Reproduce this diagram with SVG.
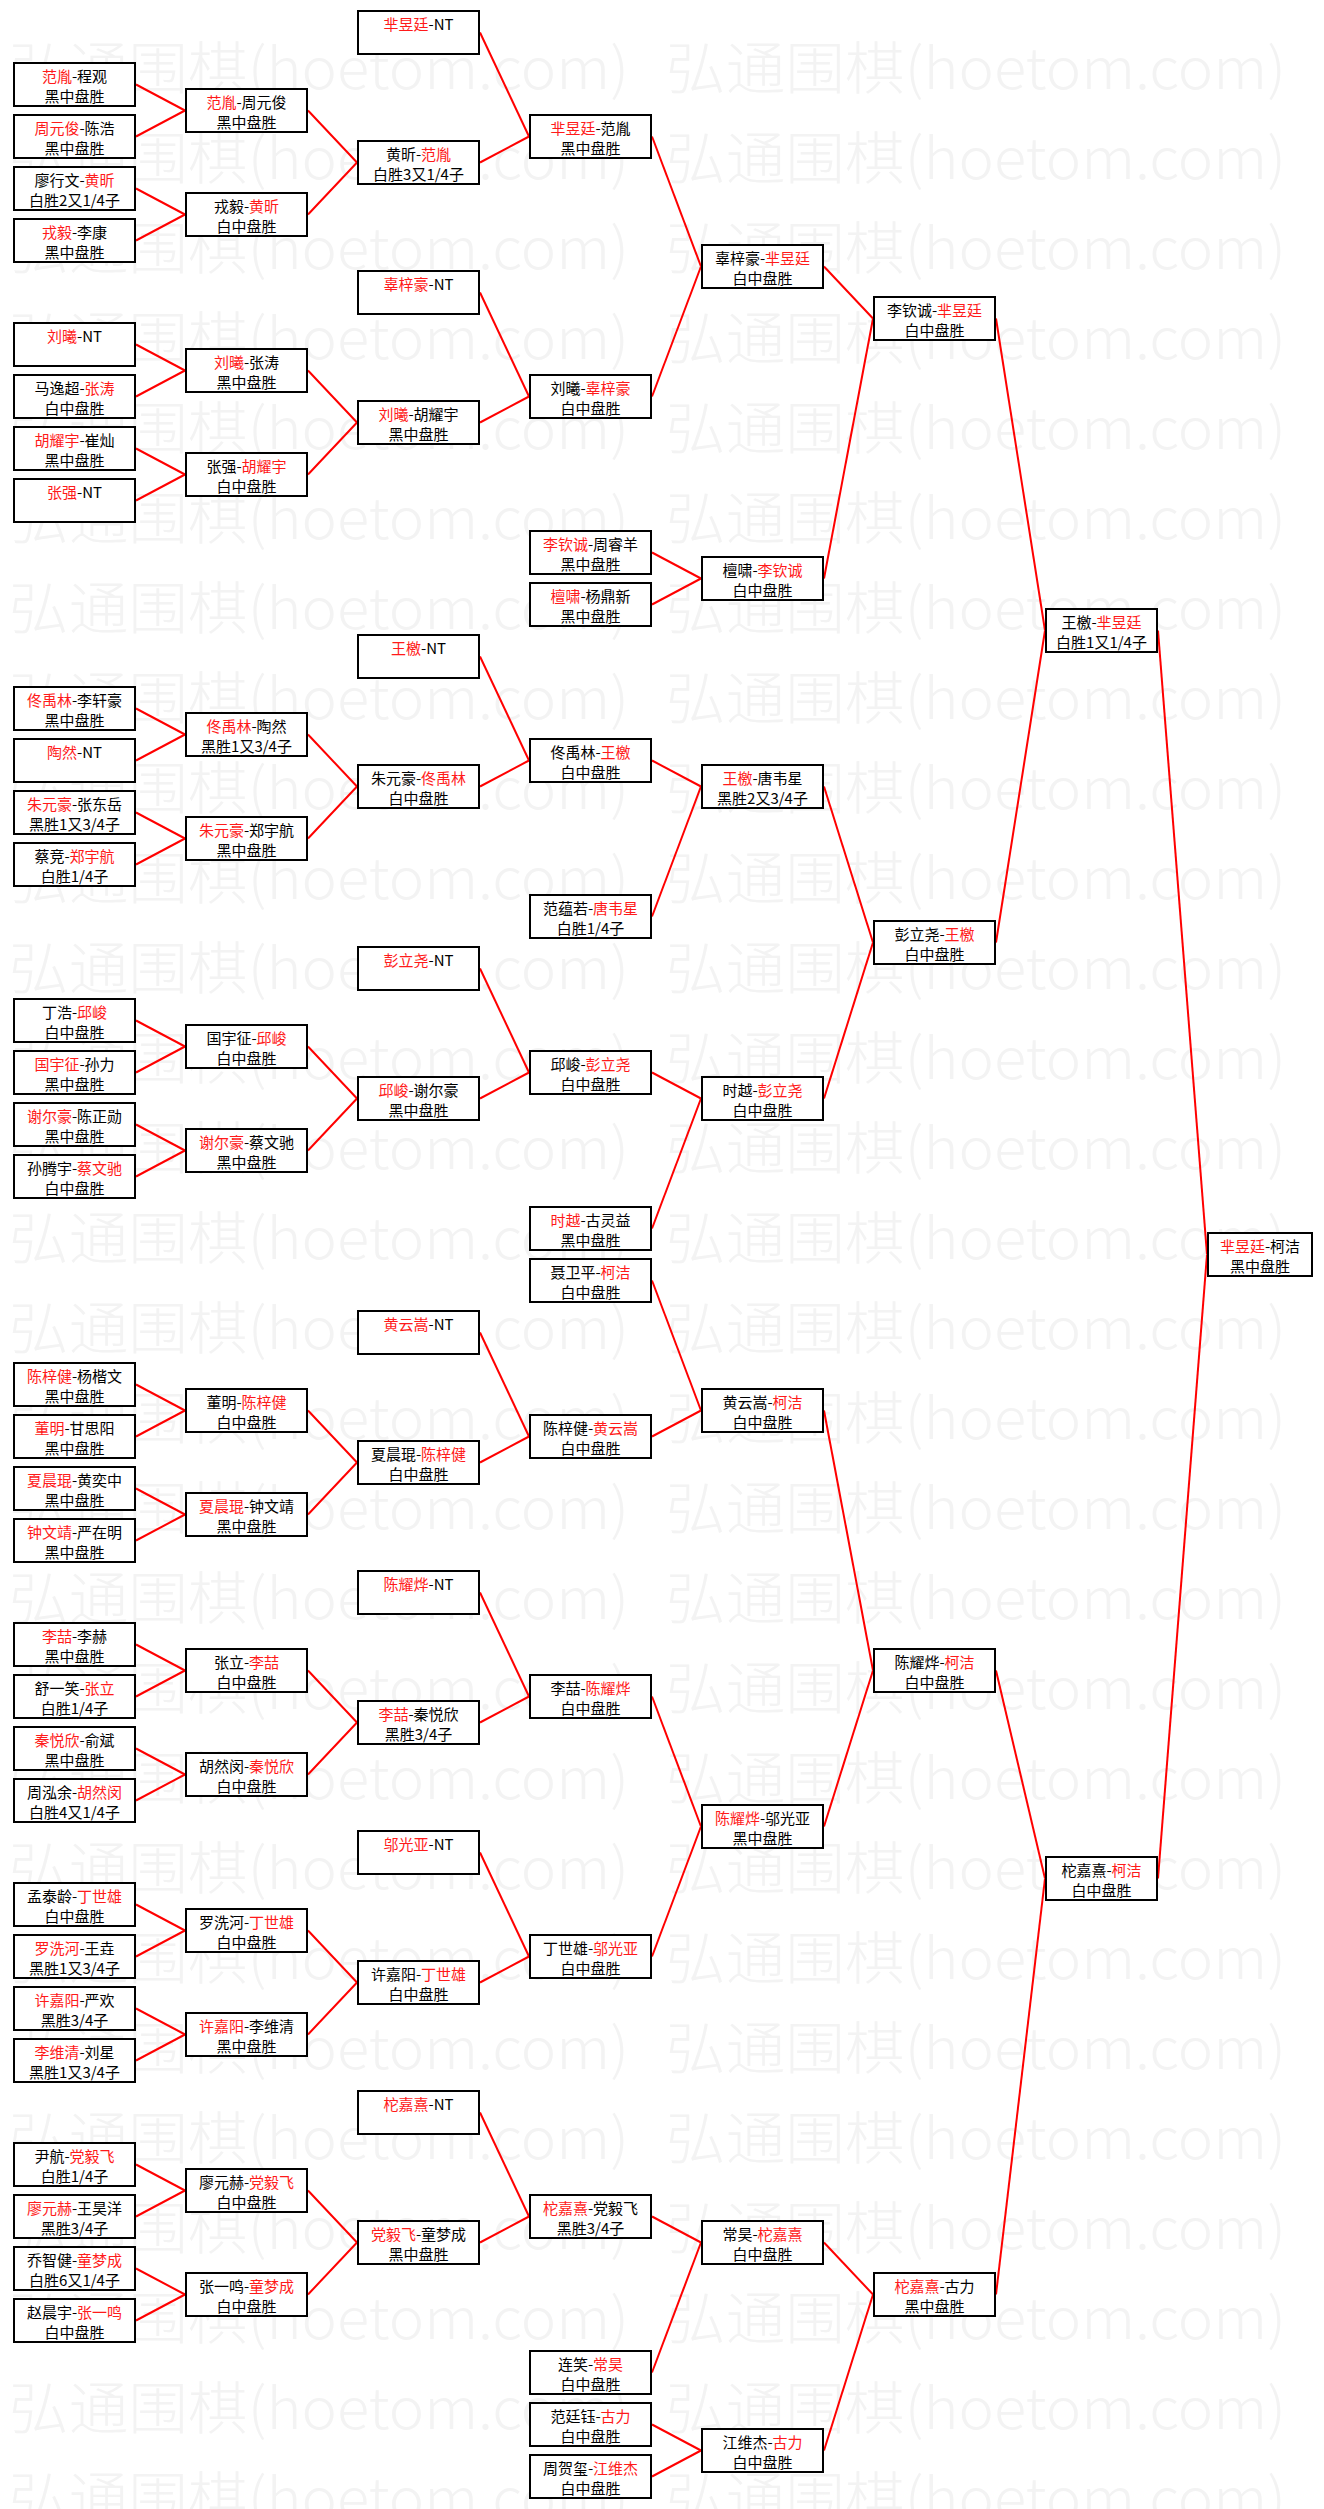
<svg xmlns="http://www.w3.org/2000/svg" width="1324" height="2509" viewBox="0 0 1324 2509">
<style>
.b{fill:#fff;stroke:#000;stroke-width:2}
.t{font-family:"Noto Sans CJK SC","Noto Sans",sans-serif;font-size:15px;text-anchor:middle;fill:#000}
.r{fill:#ff1a1a}
.c line{stroke:#ff0000;stroke-width:2;fill:none}
.wm{font-family:"Noto Sans CJK SC",sans-serif;font-size:57px;font-weight:300;fill:#f3f3f3}
</style>
<defs>
<pattern id="wmp" patternUnits="userSpaceOnUse" x="0" y="23" width="1324" height="90">
<text class="wm" x="9" y="66" textLength="620" lengthAdjust="spacingAndGlyphs">弘通围棋(hoetom.com)</text>
<text class="wm" x="666" y="66" textLength="620" lengthAdjust="spacingAndGlyphs">弘通围棋(hoetom.com)</text>
</pattern>
</defs>
<rect x="0" y="0" width="1324" height="2509" fill="#fff"/>
<rect id="watermark" x="0" y="23" width="1324" height="2486" fill="url(#wmp)"/>
<g id="connectors" class="c">
<line x1="136" y1="84.5" x2="185" y2="110.5"/><line x1="136" y1="136.5" x2="185" y2="110.5"/>
<line x1="136" y1="188.5" x2="185" y2="214.5"/><line x1="136" y1="240.5" x2="185" y2="214.5"/>
<line x1="136" y1="344.5" x2="185" y2="370.5"/><line x1="136" y1="396.5" x2="185" y2="370.5"/>
<line x1="136" y1="448.5" x2="185" y2="474.5"/><line x1="136" y1="500.5" x2="185" y2="474.5"/>
<line x1="136" y1="708.5" x2="185" y2="734.5"/><line x1="136" y1="760.5" x2="185" y2="734.5"/>
<line x1="136" y1="812.5" x2="185" y2="838.5"/><line x1="136" y1="864.5" x2="185" y2="838.5"/>
<line x1="136" y1="1020.5" x2="185" y2="1046.5"/><line x1="136" y1="1072.5" x2="185" y2="1046.5"/>
<line x1="136" y1="1124.5" x2="185" y2="1150.5"/><line x1="136" y1="1176.5" x2="185" y2="1150.5"/>
<line x1="136" y1="1384.5" x2="185" y2="1410.5"/><line x1="136" y1="1436.5" x2="185" y2="1410.5"/>
<line x1="136" y1="1488.5" x2="185" y2="1514.5"/><line x1="136" y1="1540.5" x2="185" y2="1514.5"/>
<line x1="136" y1="1644.5" x2="185" y2="1670.5"/><line x1="136" y1="1696.5" x2="185" y2="1670.5"/>
<line x1="136" y1="1748.5" x2="185" y2="1774.5"/><line x1="136" y1="1800.5" x2="185" y2="1774.5"/>
<line x1="136" y1="1904.5" x2="185" y2="1930.5"/><line x1="136" y1="1956.5" x2="185" y2="1930.5"/>
<line x1="136" y1="2008.5" x2="185" y2="2034.5"/><line x1="136" y1="2060.5" x2="185" y2="2034.5"/>
<line x1="136" y1="2164.5" x2="185" y2="2190.5"/><line x1="136" y1="2216.5" x2="185" y2="2190.5"/>
<line x1="136" y1="2268.5" x2="185" y2="2294.5"/><line x1="136" y1="2320.5" x2="185" y2="2294.5"/>
<line x1="308" y1="110.5" x2="357" y2="162.5"/><line x1="308" y1="214.5" x2="357" y2="162.5"/>
<line x1="308" y1="370.5" x2="357" y2="422.5"/><line x1="308" y1="474.5" x2="357" y2="422.5"/>
<line x1="308" y1="734.5" x2="357" y2="786.5"/><line x1="308" y1="838.5" x2="357" y2="786.5"/>
<line x1="308" y1="1046.5" x2="357" y2="1098.5"/><line x1="308" y1="1150.5" x2="357" y2="1098.5"/>
<line x1="308" y1="1410.5" x2="357" y2="1462.5"/><line x1="308" y1="1514.5" x2="357" y2="1462.5"/>
<line x1="308" y1="1670.5" x2="357" y2="1722.5"/><line x1="308" y1="1774.5" x2="357" y2="1722.5"/>
<line x1="308" y1="1930.5" x2="357" y2="1982.5"/><line x1="308" y1="2034.5" x2="357" y2="1982.5"/>
<line x1="308" y1="2190.5" x2="357" y2="2242.5"/><line x1="308" y1="2294.5" x2="357" y2="2242.5"/>
<line x1="480" y1="32.5" x2="529" y2="136.5"/><line x1="480" y1="162.5" x2="529" y2="136.5"/>
<line x1="480" y1="292.5" x2="529" y2="396.5"/><line x1="480" y1="422.5" x2="529" y2="396.5"/>
<line x1="480" y1="656.5" x2="529" y2="760.5"/><line x1="480" y1="786.5" x2="529" y2="760.5"/>
<line x1="480" y1="968.5" x2="529" y2="1072.5"/><line x1="480" y1="1098.5" x2="529" y2="1072.5"/>
<line x1="480" y1="1332.5" x2="529" y2="1436.5"/><line x1="480" y1="1462.5" x2="529" y2="1436.5"/>
<line x1="480" y1="1592.5" x2="529" y2="1696.5"/><line x1="480" y1="1722.5" x2="529" y2="1696.5"/>
<line x1="480" y1="1852.5" x2="529" y2="1956.5"/><line x1="480" y1="1982.5" x2="529" y2="1956.5"/>
<line x1="480" y1="2112.5" x2="529" y2="2216.5"/><line x1="480" y1="2242.5" x2="529" y2="2216.5"/>
<line x1="652" y1="136.5" x2="701" y2="266.5"/><line x1="652" y1="396.5" x2="701" y2="266.5"/>
<line x1="652" y1="552.5" x2="701" y2="578.5"/><line x1="652" y1="604.5" x2="701" y2="578.5"/>
<line x1="652" y1="760.5" x2="701" y2="786.5"/><line x1="652" y1="916.5" x2="701" y2="786.5"/>
<line x1="652" y1="1072.5" x2="701" y2="1098.5"/><line x1="652" y1="1228.5" x2="701" y2="1098.5"/>
<line x1="652" y1="1280.5" x2="701" y2="1410.5"/><line x1="652" y1="1436.5" x2="701" y2="1410.5"/>
<line x1="652" y1="1696.5" x2="701" y2="1826.5"/><line x1="652" y1="1956.5" x2="701" y2="1826.5"/>
<line x1="652" y1="2216.5" x2="701" y2="2242.5"/><line x1="652" y1="2372.5" x2="701" y2="2242.5"/>
<line x1="652" y1="2424.5" x2="701" y2="2450.5"/><line x1="652" y1="2476.5" x2="701" y2="2450.5"/>
<line x1="824" y1="266.5" x2="873" y2="318.5"/><line x1="824" y1="578.5" x2="873" y2="318.5"/>
<line x1="824" y1="786.5" x2="873" y2="942.5"/><line x1="824" y1="1098.5" x2="873" y2="942.5"/>
<line x1="824" y1="1410.5" x2="873" y2="1670.5"/><line x1="824" y1="1826.5" x2="873" y2="1670.5"/>
<line x1="824" y1="2242.5" x2="873" y2="2294.5"/><line x1="824" y1="2450.5" x2="873" y2="2294.5"/>
<line x1="996" y1="318.5" x2="1045" y2="630.5"/><line x1="996" y1="942.5" x2="1045" y2="630.5"/>
<line x1="996" y1="1670.5" x2="1045" y2="1878.5"/><line x1="996" y1="2294.5" x2="1045" y2="1878.5"/>
<line x1="1158" y1="630.5" x2="1207" y2="1254.5"/><line x1="1158" y1="1878.5" x2="1207" y2="1254.5"/>
</g>
<g id="nodes">
<!-- column 1 -->
<g id="r1-02" transform="translate(13,62)"><rect class="b" x="1" y="1" width="121" height="43"/><text class="t" x="61.5" y="20"><tspan class="r">范胤</tspan>-程观</text><text class="t" x="61.5" y="39.5">黑中盘胜</text></g>
<g id="r1-04" transform="translate(13,114)"><rect class="b" x="1" y="1" width="121" height="43"/><text class="t" x="61.5" y="20"><tspan class="r">周元俊</tspan>-陈浩</text><text class="t" x="61.5" y="39.5">黑中盘胜</text></g>
<g id="r1-06" transform="translate(13,166)"><rect class="b" x="1" y="1" width="121" height="43"/><text class="t" x="61.5" y="20">廖行文-<tspan class="r">黄昕</tspan></text><text class="t" x="61.5" y="39.5">白胜2又1/4子</text></g>
<g id="r1-08" transform="translate(13,218)"><rect class="b" x="1" y="1" width="121" height="43"/><text class="t" x="61.5" y="20"><tspan class="r">戎毅</tspan>-李康</text><text class="t" x="61.5" y="39.5">黑中盘胜</text></g>
<g id="r1-12" transform="translate(13,322)"><rect class="b" x="1" y="1" width="121" height="43"/><text class="t" x="61.5" y="20"><tspan class="r">刘曦</tspan>-NT</text></g>
<g id="r1-14" transform="translate(13,374)"><rect class="b" x="1" y="1" width="121" height="43"/><text class="t" x="61.5" y="20">马逸超-<tspan class="r">张涛</tspan></text><text class="t" x="61.5" y="39.5">白中盘胜</text></g>
<g id="r1-16" transform="translate(13,426)"><rect class="b" x="1" y="1" width="121" height="43"/><text class="t" x="61.5" y="20"><tspan class="r">胡耀宇</tspan>-崔灿</text><text class="t" x="61.5" y="39.5">黑中盘胜</text></g>
<g id="r1-18" transform="translate(13,478)"><rect class="b" x="1" y="1" width="121" height="43"/><text class="t" x="61.5" y="20"><tspan class="r">张强</tspan>-NT</text></g>
<g id="r1-26" transform="translate(13,686)"><rect class="b" x="1" y="1" width="121" height="43"/><text class="t" x="61.5" y="20"><tspan class="r">佟禹林</tspan>-李轩豪</text><text class="t" x="61.5" y="39.5">黑中盘胜</text></g>
<g id="r1-28" transform="translate(13,738)"><rect class="b" x="1" y="1" width="121" height="43"/><text class="t" x="61.5" y="20"><tspan class="r">陶然</tspan>-NT</text></g>
<g id="r1-30" transform="translate(13,790)"><rect class="b" x="1" y="1" width="121" height="43"/><text class="t" x="61.5" y="20"><tspan class="r">朱元豪</tspan>-张东岳</text><text class="t" x="61.5" y="39.5">黑胜1又3/4子</text></g>
<g id="r1-32" transform="translate(13,842)"><rect class="b" x="1" y="1" width="121" height="43"/><text class="t" x="61.5" y="20">蔡竞-<tspan class="r">郑宇航</tspan></text><text class="t" x="61.5" y="39.5">白胜1/4子</text></g>
<g id="r1-38" transform="translate(13,998)"><rect class="b" x="1" y="1" width="121" height="43"/><text class="t" x="61.5" y="20">丁浩-<tspan class="r">邱峻</tspan></text><text class="t" x="61.5" y="39.5">白中盘胜</text></g>
<g id="r1-40" transform="translate(13,1050)"><rect class="b" x="1" y="1" width="121" height="43"/><text class="t" x="61.5" y="20"><tspan class="r">国宇征</tspan>-孙力</text><text class="t" x="61.5" y="39.5">黑中盘胜</text></g>
<g id="r1-42" transform="translate(13,1102)"><rect class="b" x="1" y="1" width="121" height="43"/><text class="t" x="61.5" y="20"><tspan class="r">谢尔豪</tspan>-陈正勋</text><text class="t" x="61.5" y="39.5">黑中盘胜</text></g>
<g id="r1-44" transform="translate(13,1154)"><rect class="b" x="1" y="1" width="121" height="43"/><text class="t" x="61.5" y="20">孙腾宇-<tspan class="r">蔡文驰</tspan></text><text class="t" x="61.5" y="39.5">白中盘胜</text></g>
<g id="r1-52" transform="translate(13,1362)"><rect class="b" x="1" y="1" width="121" height="43"/><text class="t" x="61.5" y="20"><tspan class="r">陈梓健</tspan>-杨楷文</text><text class="t" x="61.5" y="39.5">黑中盘胜</text></g>
<g id="r1-54" transform="translate(13,1414)"><rect class="b" x="1" y="1" width="121" height="43"/><text class="t" x="61.5" y="20"><tspan class="r">董明</tspan>-甘思阳</text><text class="t" x="61.5" y="39.5">黑中盘胜</text></g>
<g id="r1-56" transform="translate(13,1466)"><rect class="b" x="1" y="1" width="121" height="43"/><text class="t" x="61.5" y="20"><tspan class="r">夏晨琨</tspan>-黄奕中</text><text class="t" x="61.5" y="39.5">黑中盘胜</text></g>
<g id="r1-58" transform="translate(13,1518)"><rect class="b" x="1" y="1" width="121" height="43"/><text class="t" x="61.5" y="20"><tspan class="r">钟文靖</tspan>-严在明</text><text class="t" x="61.5" y="39.5">黑中盘胜</text></g>
<g id="r1-62" transform="translate(13,1622)"><rect class="b" x="1" y="1" width="121" height="43"/><text class="t" x="61.5" y="20"><tspan class="r">李喆</tspan>-李赫</text><text class="t" x="61.5" y="39.5">黑中盘胜</text></g>
<g id="r1-64" transform="translate(13,1674)"><rect class="b" x="1" y="1" width="121" height="43"/><text class="t" x="61.5" y="20">舒一笑-<tspan class="r">张立</tspan></text><text class="t" x="61.5" y="39.5">白胜1/4子</text></g>
<g id="r1-66" transform="translate(13,1726)"><rect class="b" x="1" y="1" width="121" height="43"/><text class="t" x="61.5" y="20"><tspan class="r">秦悦欣</tspan>-俞斌</text><text class="t" x="61.5" y="39.5">黑中盘胜</text></g>
<g id="r1-68" transform="translate(13,1778)"><rect class="b" x="1" y="1" width="121" height="43"/><text class="t" x="61.5" y="20">周泓余-<tspan class="r">胡然闵</tspan></text><text class="t" x="61.5" y="39.5">白胜4又1/4子</text></g>
<g id="r1-72" transform="translate(13,1882)"><rect class="b" x="1" y="1" width="121" height="43"/><text class="t" x="61.5" y="20">孟泰龄-<tspan class="r">丁世雄</tspan></text><text class="t" x="61.5" y="39.5">白中盘胜</text></g>
<g id="r1-74" transform="translate(13,1934)"><rect class="b" x="1" y="1" width="121" height="43"/><text class="t" x="61.5" y="20"><tspan class="r">罗洗河</tspan>-王垚</text><text class="t" x="61.5" y="39.5">黑胜1又3/4子</text></g>
<g id="r1-76" transform="translate(13,1986)"><rect class="b" x="1" y="1" width="121" height="43"/><text class="t" x="61.5" y="20"><tspan class="r">许嘉阳</tspan>-严欢</text><text class="t" x="61.5" y="39.5">黑胜3/4子</text></g>
<g id="r1-78" transform="translate(13,2038)"><rect class="b" x="1" y="1" width="121" height="43"/><text class="t" x="61.5" y="20"><tspan class="r">李维清</tspan>-刘星</text><text class="t" x="61.5" y="39.5">黑胜1又3/4子</text></g>
<g id="r1-82" transform="translate(13,2142)"><rect class="b" x="1" y="1" width="121" height="43"/><text class="t" x="61.5" y="20">尹航-<tspan class="r">党毅飞</tspan></text><text class="t" x="61.5" y="39.5">白胜1/4子</text></g>
<g id="r1-84" transform="translate(13,2194)"><rect class="b" x="1" y="1" width="121" height="43"/><text class="t" x="61.5" y="20"><tspan class="r">廖元赫</tspan>-王昊洋</text><text class="t" x="61.5" y="39.5">黑胜3/4子</text></g>
<g id="r1-86" transform="translate(13,2246)"><rect class="b" x="1" y="1" width="121" height="43"/><text class="t" x="61.5" y="20">乔智健-<tspan class="r">童梦成</tspan></text><text class="t" x="61.5" y="39.5">白胜6又1/4子</text></g>
<g id="r1-88" transform="translate(13,2298)"><rect class="b" x="1" y="1" width="121" height="43"/><text class="t" x="61.5" y="20">赵晨宇-<tspan class="r">张一鸣</tspan></text><text class="t" x="61.5" y="39.5">白中盘胜</text></g>
<!-- column 2 -->
<g id="r2-03" transform="translate(185,88)"><rect class="b" x="1" y="1" width="121" height="43"/><text class="t" x="61.5" y="20"><tspan class="r">范胤</tspan>-周元俊</text><text class="t" x="61.5" y="39.5">黑中盘胜</text></g>
<g id="r2-07" transform="translate(185,192)"><rect class="b" x="1" y="1" width="121" height="43"/><text class="t" x="61.5" y="20">戎毅-<tspan class="r">黄昕</tspan></text><text class="t" x="61.5" y="39.5">白中盘胜</text></g>
<g id="r2-13" transform="translate(185,348)"><rect class="b" x="1" y="1" width="121" height="43"/><text class="t" x="61.5" y="20"><tspan class="r">刘曦</tspan>-张涛</text><text class="t" x="61.5" y="39.5">黑中盘胜</text></g>
<g id="r2-17" transform="translate(185,452)"><rect class="b" x="1" y="1" width="121" height="43"/><text class="t" x="61.5" y="20">张强-<tspan class="r">胡耀宇</tspan></text><text class="t" x="61.5" y="39.5">白中盘胜</text></g>
<g id="r2-27" transform="translate(185,712)"><rect class="b" x="1" y="1" width="121" height="43"/><text class="t" x="61.5" y="20"><tspan class="r">佟禹林</tspan>-陶然</text><text class="t" x="61.5" y="39.5">黑胜1又3/4子</text></g>
<g id="r2-31" transform="translate(185,816)"><rect class="b" x="1" y="1" width="121" height="43"/><text class="t" x="61.5" y="20"><tspan class="r">朱元豪</tspan>-郑宇航</text><text class="t" x="61.5" y="39.5">黑中盘胜</text></g>
<g id="r2-39" transform="translate(185,1024)"><rect class="b" x="1" y="1" width="121" height="43"/><text class="t" x="61.5" y="20">国宇征-<tspan class="r">邱峻</tspan></text><text class="t" x="61.5" y="39.5">白中盘胜</text></g>
<g id="r2-43" transform="translate(185,1128)"><rect class="b" x="1" y="1" width="121" height="43"/><text class="t" x="61.5" y="20"><tspan class="r">谢尔豪</tspan>-蔡文驰</text><text class="t" x="61.5" y="39.5">黑中盘胜</text></g>
<g id="r2-53" transform="translate(185,1388)"><rect class="b" x="1" y="1" width="121" height="43"/><text class="t" x="61.5" y="20">董明-<tspan class="r">陈梓健</tspan></text><text class="t" x="61.5" y="39.5">白中盘胜</text></g>
<g id="r2-57" transform="translate(185,1492)"><rect class="b" x="1" y="1" width="121" height="43"/><text class="t" x="61.5" y="20"><tspan class="r">夏晨琨</tspan>-钟文靖</text><text class="t" x="61.5" y="39.5">黑中盘胜</text></g>
<g id="r2-63" transform="translate(185,1648)"><rect class="b" x="1" y="1" width="121" height="43"/><text class="t" x="61.5" y="20">张立-<tspan class="r">李喆</tspan></text><text class="t" x="61.5" y="39.5">白中盘胜</text></g>
<g id="r2-67" transform="translate(185,1752)"><rect class="b" x="1" y="1" width="121" height="43"/><text class="t" x="61.5" y="20">胡然闵-<tspan class="r">秦悦欣</tspan></text><text class="t" x="61.5" y="39.5">白中盘胜</text></g>
<g id="r2-73" transform="translate(185,1908)"><rect class="b" x="1" y="1" width="121" height="43"/><text class="t" x="61.5" y="20">罗洗河-<tspan class="r">丁世雄</tspan></text><text class="t" x="61.5" y="39.5">白中盘胜</text></g>
<g id="r2-77" transform="translate(185,2012)"><rect class="b" x="1" y="1" width="121" height="43"/><text class="t" x="61.5" y="20"><tspan class="r">许嘉阳</tspan>-李维清</text><text class="t" x="61.5" y="39.5">黑中盘胜</text></g>
<g id="r2-83" transform="translate(185,2168)"><rect class="b" x="1" y="1" width="121" height="43"/><text class="t" x="61.5" y="20">廖元赫-<tspan class="r">党毅飞</tspan></text><text class="t" x="61.5" y="39.5">白中盘胜</text></g>
<g id="r2-87" transform="translate(185,2272)"><rect class="b" x="1" y="1" width="121" height="43"/><text class="t" x="61.5" y="20">张一鸣-<tspan class="r">童梦成</tspan></text><text class="t" x="61.5" y="39.5">白中盘胜</text></g>
<!-- column 3 -->
<g id="r3-00" transform="translate(357,10)"><rect class="b" x="1" y="1" width="121" height="43"/><text class="t" x="61.5" y="20"><tspan class="r">芈昱廷</tspan>-NT</text></g>
<g id="r3-05" transform="translate(357,140)"><rect class="b" x="1" y="1" width="121" height="43"/><text class="t" x="61.5" y="20">黄昕-<tspan class="r">范胤</tspan></text><text class="t" x="61.5" y="39.5">白胜3又1/4子</text></g>
<g id="r3-10" transform="translate(357,270)"><rect class="b" x="1" y="1" width="121" height="43"/><text class="t" x="61.5" y="20"><tspan class="r">辜梓豪</tspan>-NT</text></g>
<g id="r3-15" transform="translate(357,400)"><rect class="b" x="1" y="1" width="121" height="43"/><text class="t" x="61.5" y="20"><tspan class="r">刘曦</tspan>-胡耀宇</text><text class="t" x="61.5" y="39.5">黑中盘胜</text></g>
<g id="r3-24" transform="translate(357,634)"><rect class="b" x="1" y="1" width="121" height="43"/><text class="t" x="61.5" y="20"><tspan class="r">王檄</tspan>-NT</text></g>
<g id="r3-29" transform="translate(357,764)"><rect class="b" x="1" y="1" width="121" height="43"/><text class="t" x="61.5" y="20">朱元豪-<tspan class="r">佟禹林</tspan></text><text class="t" x="61.5" y="39.5">白中盘胜</text></g>
<g id="r3-36" transform="translate(357,946)"><rect class="b" x="1" y="1" width="121" height="43"/><text class="t" x="61.5" y="20"><tspan class="r">彭立尧</tspan>-NT</text></g>
<g id="r3-41" transform="translate(357,1076)"><rect class="b" x="1" y="1" width="121" height="43"/><text class="t" x="61.5" y="20"><tspan class="r">邱峻</tspan>-谢尔豪</text><text class="t" x="61.5" y="39.5">黑中盘胜</text></g>
<g id="r3-50" transform="translate(357,1310)"><rect class="b" x="1" y="1" width="121" height="43"/><text class="t" x="61.5" y="20"><tspan class="r">黄云嵩</tspan>-NT</text></g>
<g id="r3-55" transform="translate(357,1440)"><rect class="b" x="1" y="1" width="121" height="43"/><text class="t" x="61.5" y="20">夏晨琨-<tspan class="r">陈梓健</tspan></text><text class="t" x="61.5" y="39.5">白中盘胜</text></g>
<g id="r3-60" transform="translate(357,1570)"><rect class="b" x="1" y="1" width="121" height="43"/><text class="t" x="61.5" y="20"><tspan class="r">陈耀烨</tspan>-NT</text></g>
<g id="r3-65" transform="translate(357,1700)"><rect class="b" x="1" y="1" width="121" height="43"/><text class="t" x="61.5" y="20"><tspan class="r">李喆</tspan>-秦悦欣</text><text class="t" x="61.5" y="39.5">黑胜3/4子</text></g>
<g id="r3-70" transform="translate(357,1830)"><rect class="b" x="1" y="1" width="121" height="43"/><text class="t" x="61.5" y="20"><tspan class="r">邬光亚</tspan>-NT</text></g>
<g id="r3-75" transform="translate(357,1960)"><rect class="b" x="1" y="1" width="121" height="43"/><text class="t" x="61.5" y="20">许嘉阳-<tspan class="r">丁世雄</tspan></text><text class="t" x="61.5" y="39.5">白中盘胜</text></g>
<g id="r3-80" transform="translate(357,2090)"><rect class="b" x="1" y="1" width="121" height="43"/><text class="t" x="61.5" y="20"><tspan class="r">柁嘉熹</tspan>-NT</text></g>
<g id="r3-85" transform="translate(357,2220)"><rect class="b" x="1" y="1" width="121" height="43"/><text class="t" x="61.5" y="20"><tspan class="r">党毅飞</tspan>-童梦成</text><text class="t" x="61.5" y="39.5">黑中盘胜</text></g>
<!-- column 4 -->
<g id="r4-04" transform="translate(529,114)"><rect class="b" x="1" y="1" width="121" height="43"/><text class="t" x="61.5" y="20"><tspan class="r">芈昱廷</tspan>-范胤</text><text class="t" x="61.5" y="39.5">黑中盘胜</text></g>
<g id="r4-14" transform="translate(529,374)"><rect class="b" x="1" y="1" width="121" height="43"/><text class="t" x="61.5" y="20">刘曦-<tspan class="r">辜梓豪</tspan></text><text class="t" x="61.5" y="39.5">白中盘胜</text></g>
<g id="r4-20" transform="translate(529,530)"><rect class="b" x="1" y="1" width="121" height="43"/><text class="t" x="61.5" y="20"><tspan class="r">李钦诚</tspan>-周睿羊</text><text class="t" x="61.5" y="39.5">黑中盘胜</text></g>
<g id="r4-22" transform="translate(529,582)"><rect class="b" x="1" y="1" width="121" height="43"/><text class="t" x="61.5" y="20"><tspan class="r">檀啸</tspan>-杨鼎新</text><text class="t" x="61.5" y="39.5">黑中盘胜</text></g>
<g id="r4-28" transform="translate(529,738)"><rect class="b" x="1" y="1" width="121" height="43"/><text class="t" x="61.5" y="20">佟禹林-<tspan class="r">王檄</tspan></text><text class="t" x="61.5" y="39.5">白中盘胜</text></g>
<g id="r4-34" transform="translate(529,894)"><rect class="b" x="1" y="1" width="121" height="43"/><text class="t" x="61.5" y="20">范蕴若-<tspan class="r">唐韦星</tspan></text><text class="t" x="61.5" y="39.5">白胜1/4子</text></g>
<g id="r4-40" transform="translate(529,1050)"><rect class="b" x="1" y="1" width="121" height="43"/><text class="t" x="61.5" y="20">邱峻-<tspan class="r">彭立尧</tspan></text><text class="t" x="61.5" y="39.5">白中盘胜</text></g>
<g id="r4-46" transform="translate(529,1206)"><rect class="b" x="1" y="1" width="121" height="43"/><text class="t" x="61.5" y="20"><tspan class="r">时越</tspan>-古灵益</text><text class="t" x="61.5" y="39.5">黑中盘胜</text></g>
<g id="r4-48" transform="translate(529,1258)"><rect class="b" x="1" y="1" width="121" height="43"/><text class="t" x="61.5" y="20">聂卫平-<tspan class="r">柯洁</tspan></text><text class="t" x="61.5" y="39.5">白中盘胜</text></g>
<g id="r4-54" transform="translate(529,1414)"><rect class="b" x="1" y="1" width="121" height="43"/><text class="t" x="61.5" y="20">陈梓健-<tspan class="r">黄云嵩</tspan></text><text class="t" x="61.5" y="39.5">白中盘胜</text></g>
<g id="r4-64" transform="translate(529,1674)"><rect class="b" x="1" y="1" width="121" height="43"/><text class="t" x="61.5" y="20">李喆-<tspan class="r">陈耀烨</tspan></text><text class="t" x="61.5" y="39.5">白中盘胜</text></g>
<g id="r4-74" transform="translate(529,1934)"><rect class="b" x="1" y="1" width="121" height="43"/><text class="t" x="61.5" y="20">丁世雄-<tspan class="r">邬光亚</tspan></text><text class="t" x="61.5" y="39.5">白中盘胜</text></g>
<g id="r4-84" transform="translate(529,2194)"><rect class="b" x="1" y="1" width="121" height="43"/><text class="t" x="61.5" y="20"><tspan class="r">柁嘉熹</tspan>-党毅飞</text><text class="t" x="61.5" y="39.5">黑胜3/4子</text></g>
<g id="r4-90" transform="translate(529,2350)"><rect class="b" x="1" y="1" width="121" height="43"/><text class="t" x="61.5" y="20">连笑-<tspan class="r">常昊</tspan></text><text class="t" x="61.5" y="39.5">白中盘胜</text></g>
<g id="r4-92" transform="translate(529,2402)"><rect class="b" x="1" y="1" width="121" height="43"/><text class="t" x="61.5" y="20">范廷钰-<tspan class="r">古力</tspan></text><text class="t" x="61.5" y="39.5">白中盘胜</text></g>
<g id="r4-94" transform="translate(529,2454)"><rect class="b" x="1" y="1" width="121" height="43"/><text class="t" x="61.5" y="20">周贺玺-<tspan class="r">江维杰</tspan></text><text class="t" x="61.5" y="39.5">白中盘胜</text></g>
<!-- column 5 -->
<g id="r5-09" transform="translate(701,244)"><rect class="b" x="1" y="1" width="121" height="43"/><text class="t" x="61.5" y="20">辜梓豪-<tspan class="r">芈昱廷</tspan></text><text class="t" x="61.5" y="39.5">白中盘胜</text></g>
<g id="r5-21" transform="translate(701,556)"><rect class="b" x="1" y="1" width="121" height="43"/><text class="t" x="61.5" y="20">檀啸-<tspan class="r">李钦诚</tspan></text><text class="t" x="61.5" y="39.5">白中盘胜</text></g>
<g id="r5-29" transform="translate(701,764)"><rect class="b" x="1" y="1" width="121" height="43"/><text class="t" x="61.5" y="20"><tspan class="r">王檄</tspan>-唐韦星</text><text class="t" x="61.5" y="39.5">黑胜2又3/4子</text></g>
<g id="r5-41" transform="translate(701,1076)"><rect class="b" x="1" y="1" width="121" height="43"/><text class="t" x="61.5" y="20">时越-<tspan class="r">彭立尧</tspan></text><text class="t" x="61.5" y="39.5">白中盘胜</text></g>
<g id="r5-53" transform="translate(701,1388)"><rect class="b" x="1" y="1" width="121" height="43"/><text class="t" x="61.5" y="20">黄云嵩-<tspan class="r">柯洁</tspan></text><text class="t" x="61.5" y="39.5">白中盘胜</text></g>
<g id="r5-69" transform="translate(701,1804)"><rect class="b" x="1" y="1" width="121" height="43"/><text class="t" x="61.5" y="20"><tspan class="r">陈耀烨</tspan>-邬光亚</text><text class="t" x="61.5" y="39.5">黑中盘胜</text></g>
<g id="r5-85" transform="translate(701,2220)"><rect class="b" x="1" y="1" width="121" height="43"/><text class="t" x="61.5" y="20">常昊-<tspan class="r">柁嘉熹</tspan></text><text class="t" x="61.5" y="39.5">白中盘胜</text></g>
<g id="r5-93" transform="translate(701,2428)"><rect class="b" x="1" y="1" width="121" height="43"/><text class="t" x="61.5" y="20">江维杰-<tspan class="r">古力</tspan></text><text class="t" x="61.5" y="39.5">白中盘胜</text></g>
<!-- column 6 -->
<g id="r6-11" transform="translate(873,296)"><rect class="b" x="1" y="1" width="121" height="43"/><text class="t" x="61.5" y="20">李钦诚-<tspan class="r">芈昱廷</tspan></text><text class="t" x="61.5" y="39.5">白中盘胜</text></g>
<g id="r6-35" transform="translate(873,920)"><rect class="b" x="1" y="1" width="121" height="43"/><text class="t" x="61.5" y="20">彭立尧-<tspan class="r">王檄</tspan></text><text class="t" x="61.5" y="39.5">白中盘胜</text></g>
<g id="r6-63" transform="translate(873,1648)"><rect class="b" x="1" y="1" width="121" height="43"/><text class="t" x="61.5" y="20">陈耀烨-<tspan class="r">柯洁</tspan></text><text class="t" x="61.5" y="39.5">白中盘胜</text></g>
<g id="r6-87" transform="translate(873,2272)"><rect class="b" x="1" y="1" width="121" height="43"/><text class="t" x="61.5" y="20"><tspan class="r">柁嘉熹</tspan>-古力</text><text class="t" x="61.5" y="39.5">黑中盘胜</text></g>
<!-- column 7 -->
<g id="r7-23" transform="translate(1045,608)"><rect class="b" x="1" y="1" width="111" height="43"/><text class="t" x="56.5" y="20">王檄-<tspan class="r">芈昱廷</tspan></text><text class="t" x="56.5" y="39.5">白胜1又1/4子</text></g>
<g id="r7-71" transform="translate(1045,1856)"><rect class="b" x="1" y="1" width="111" height="43"/><text class="t" x="56.5" y="20">柁嘉熹-<tspan class="r">柯洁</tspan></text><text class="t" x="56.5" y="39.5">白中盘胜</text></g>
<!-- final -->
<g id="r8-47" transform="translate(1207,1232)"><rect class="b" x="1" y="1" width="104" height="43"/><text class="t" x="53" y="20"><tspan class="r">芈昱廷</tspan>-柯洁</text><text class="t" x="53" y="39.5">黑中盘胜</text></g>
</g>
</svg>
